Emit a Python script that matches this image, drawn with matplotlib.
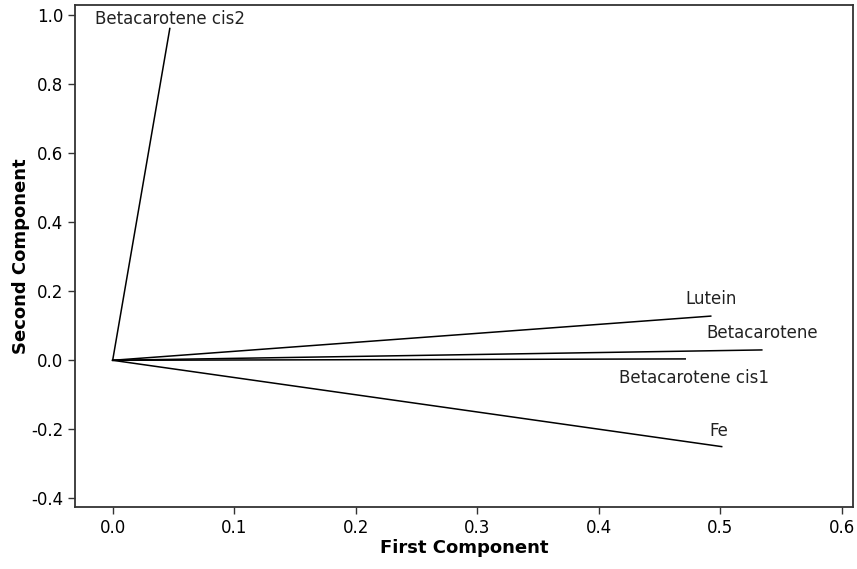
import numpy as np
import matplotlib.pyplot as plt

names = ["Betacarotene cis2", "Lutein", "Betacarotene", "Betacarotene cis1", "Fe"]
pc1 = [0.047, 0.492, 0.534, 0.471, 0.501]
pc2 = [0.961, 0.128, 0.030, 0.004, -0.250]
# label offsets in points (dx, dy) relative to the end of each vector
offsets = [(0, 0), (0, 6), (0, 6), (6, -7), (-2, 5)]

plt.rcParams['font.family'] = 'DejaVu Sans'

fig = plt.figure(figsize=(8.57, 5.69), dpi=100)
ax = fig.add_axes([0.0875, 0.1095, 0.9078, 0.8817])

for n, x, y, off in zip(names, pc1, pc2, offsets):
    ax.plot([0, x], [0, y], color='black', lw=1.1)
    va = 'bottom' if off[1] >= 0 else 'top'
    ax.annotate(n, (x, y), xytext=off, textcoords='offset points',
                ha='center', va=va, fontsize=12, color='#222222')

ax.set_xlim(-0.031, 0.609)
ax.set_ylim(-0.424, 1.029)
ax.set_xticks(np.arange(0, 0.61, 0.1))
ax.set_yticks(np.arange(-0.4, 1.01, 0.2))
ax.xaxis.set_major_formatter(plt.FormatStrFormatter('%.1f'))
ax.yaxis.set_major_formatter(plt.FormatStrFormatter('%.1f'))
ax.tick_params(labelsize=12, length=5, width=1, color='#333333')
for s in ax.spines.values():
    s.set_linewidth(1.3)
    s.set_color('#333333')

ax.set_xlabel('First Component', fontsize=13, fontweight='bold', labelpad=2)
ax.set_ylabel('Second Component', fontsize=13, fontweight='bold', labelpad=1)

fig.savefig('out.png', dpi=100)
